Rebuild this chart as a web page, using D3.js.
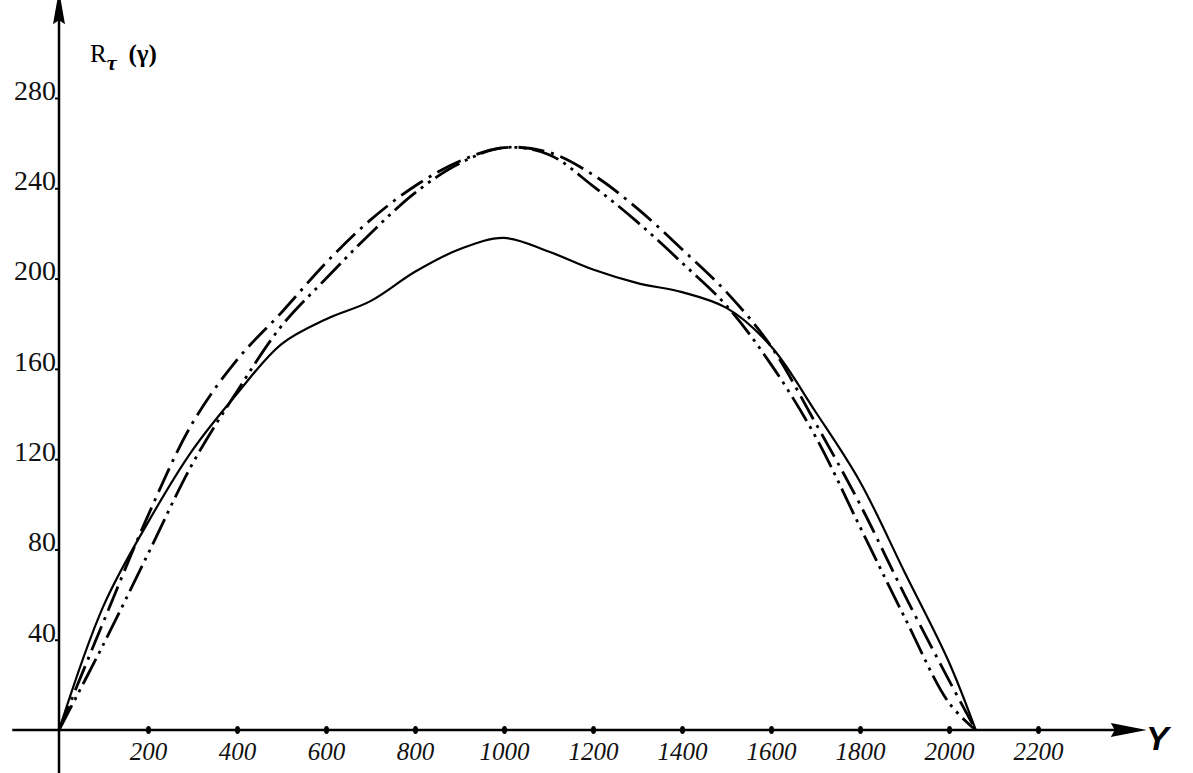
<!DOCTYPE html>
<html>
<head>
  <meta charset="utf-8">
  <script src="https://d3js.org/d3.v7.min.js"></script>
  <style>
    body { margin: 0; background: #fff; }
    svg { display: block; }
    .tick text { font-family: 'Liberation Serif', serif; fill: #111; }
  </style>
</head>
<body>
  <div id="chart"></div>
  <script>
    // values
    var gammas = [0, 100, 200, 300, 400, 500, 600, 700, 800, 900, 1000, 1100, 1200, 1300, 1400, 1500, 1600, 1700, 1800, 1900, 2000, 2060];
    var solidVals   = [0, 55, 92, 124, 149, 171, 182, 190, 203, 213, 218, 212, 204, 198, 194, 187, 170, 141, 110, 70, 30, 0];
    var dashDotVals = [0, 48, 95, 136, 164, 185, 207, 226, 241, 252, 258, 256, 246, 231, 213, 194, 170, 136, 100, 60, 22, 0];
    var dashDot2Vals = [0, 38, 78, 118, 150, 179, 200, 220, 238, 251, 258, 255, 241, 225, 207, 188, 162, 130, 90, 50, 12, 0];

    var xTicks = [200, 400, 600, 800, 1000, 1200, 1400, 1600, 1800, 2000, 2200];
    var yTicks = [40, 80, 120, 160, 200, 240, 280];

    var W = 1193, H = 773;

    var svg = d3.select("#chart").append("svg")
      .attr("width", W)
      .attr("height", H);

    svg.append("rect").attr("width", W).attr("height", H).attr("fill", "#fff");

    var x = d3.scaleLinear().domain([0, 2200]).range([59, 1038]);
    var y = d3.scaleLinear().domain([0, 280]).range([730, 98]);

    // axis lines with arrow heads
    svg.append("line")
      .attr("x1", x(-105)).attr("y1", y(0))
      .attr("x2", x(2395)).attr("y2", y(0))
      .attr("stroke", "#000").attr("stroke-width", 2.5);
    svg.append("path")
      .attr("d", "M" + (x(2395) + 22) + "," + y(0) + " L" + (x(2395) - 14) + "," + (y(0) - 7) +
        " L" + (x(2395) - 10) + "," + y(0) + " L" + (x(2395) - 14) + "," + (y(0) + 7) + " Z")
      .attr("fill", "#000");

    svg.append("line")
      .attr("x1", x(0)).attr("y1", y(-20))
      .attr("x2", x(0)).attr("y2", y(318))
      .attr("stroke", "#000").attr("stroke-width", 2.5);
    svg.append("path")
      .attr("d", "M" + x(0) + "," + (y(318) - 22) + " L" + (x(0) - 6) + "," + (y(318) + 12) +
        " L" + x(0) + "," + (y(318) + 8) + " L" + (x(0) + 6) + "," + (y(318) + 12) + " Z")
      .attr("fill", "#000");

    // x axis ticks (dots on the axis) and italic labels
    var gx = svg.append("g")
      .attr("transform", "translate(0," + y(0) + ")")
      .call(d3.axisBottom(x).tickValues(xTicks).tickSize(0).tickPadding(14).tickFormat(d3.format("d")));
    gx.select(".domain").remove();
    gx.selectAll(".tick text")
      .style("font-size", "25px")
      .style("font-style", "italic")
      .attr("dy", "0.62em");
    gx.selectAll(".tick").append("ellipse")
      .attr("rx", 2.5).attr("ry", 4).attr("fill", "#000");

    // y axis ticks
    var gy = svg.append("g")
      .attr("transform", "translate(" + x(0) + ",0)")
      .call(d3.axisLeft(y).tickValues(yTicks).tickSize(4).tickPadding(-1));
    gy.select(".domain").remove();
    gy.selectAll(".tick line").attr("stroke", "#000").attr("stroke-width", 2);
    gy.selectAll(".tick text")
      .style("font-size", "28px")
      .attr("dy", "0.05em");

    // axis titles
    var yTitle = svg.append("text")
      .attr("x", 90).attr("y", 62)
      .style("font-family", "'Liberation Serif', serif")
      .style("font-size", "25px");
    yTitle.append("tspan").text("R");
    yTitle.append("tspan").attr("dy", 8).style("font-size", "22px")
      .style("font-style", "italic").style("font-weight", "bold").text("τ");
    yTitle.append("tspan").attr("dy", -8).attr("dx", 12)
      .style("font-weight", "bold").text("(γ)");

    svg.append("text")
      .attr("x", 1146).attr("y", 750)
      .style("font-family", "'Liberation Sans', sans-serif")
      .style("font-size", "34px")
      .style("font-style", "italic")
      .style("font-weight", "bold")
      .text("Y");

    // curves
    var series = [
      { vals: solidVals, dash: null, width: 2.2 },
      { vals: dashDotVals, dash: "26,7,3,7", width: 2.8 },
      { vals: dashDot2Vals, dash: "28,6,3,6,3,6", width: 2.8 }
    ];

    var line = d3.line()
      .x(function (d) { return x(d[0]); })
      .y(function (d) { return y(d[1]); })
      .curve(d3.curveCatmullRom.alpha(0.5));

    svg.selectAll(".curve")
      .data(series)
      .enter()
      .append("path")
      .attr("class", "curve")
      .attr("d", function (s) {
        return line(gammas.map(function (g, i) { return [g, s.vals[i]]; }));
      })
      .attr("fill", "none")
      .attr("stroke", "#000")
      .attr("stroke-width", function (s) { return s.width; })
      .attr("stroke-dasharray", function (s) { return s.dash; });
  </script>
</body>
</html>
